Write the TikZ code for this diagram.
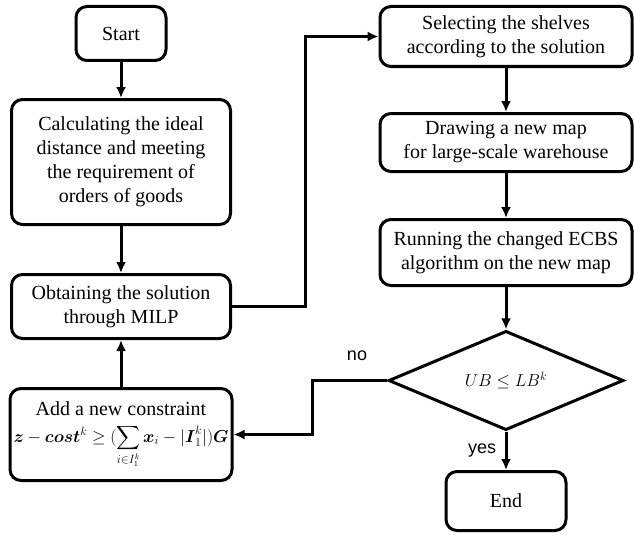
\documentclass[tikz,border=0pt]{standalone}
\usepackage{fontspec}
\setmainfont{Liberation Serif}
\newfontfamily\labelfont{Liberation Sans}
\usepackage{amsmath}
\usepackage{amssymb}
\usetikzlibrary{calc}
\usetikzlibrary{positioning}
\usetikzlibrary{shapes.geometric}
\usetikzlibrary{arrows.meta}
\tikzstyle{stepnode} = [draw, rectangle, rounded corners=11pt, line width=3pt, align=center, inner sep=2pt, font=\fontsize{20}{24}\selectfont]
\tikzstyle{decnode} = [draw, diamond, line width=3pt, inner sep=0pt, font=\fontsize{17.5}{24}\selectfont]
\tikzstyle{flow} = [line width=3pt, -{Latex[length=11pt,width=10pt]}]
\tikzstyle{flowlabel} = [inner sep=0pt, font=\labelfont\fontsize{18}{20}\selectfont]

\begin{document}
\begin{tikzpicture}[x=1pt,y=1pt]
\useasboundingbox (0,0) rectangle (634,-535);
\node[stepnode, minimum width=90pt, minimum height=54pt] (start) at (121,-33.5) {Start};
\node[stepnode, minimum width=219pt, minimum height=125pt] (ideal) at ($(start)+(0,-128.5)$)
{Calculating the ideal\\distance and meeting\\the requirement of\\orders of goods};
\node[stepnode, minimum width=219pt, minimum height=64pt] (milp) at ($(ideal)+(0,-144.5)$)
{Obtaining the solution\\through MILP};
\node[stepnode, minimum width=222pt, minimum height=92pt] (constr) at ($(milp)+(0,-128)$)
{Add a new constraint\\[3pt]
{\fontsize{16.5}{20}\selectfont$\boldsymbol{z}-\boldsymbol{cost}^k \geq (\displaystyle\sum_{i\in I_1^k}\boldsymbol{x}_i-|\boldsymbol{I}_1^k|)\boldsymbol{G}$}};

\node[stepnode, minimum width=252pt, minimum height=60pt] (shelves) at (506,-36.5)
{Selecting the shelves\\according to the solution};
\node[stepnode, minimum width=252pt, minimum height=58pt] (newmap) at ($(shelves)+(0,-106)$)
{Drawing a new map\\for large-scale warehouse};
\node[stepnode, minimum width=252pt, minimum height=66pt] (ecbs) at ($(newmap)+(0,-110)$)
{Running the changed ECBS\\algorithm on the new map};
\node[decnode, minimum width=235pt, minimum height=92pt] (check) at ($(ecbs)+(0,-128)$)
{$UB \leq LB^k$};
\node[stepnode, minimum width=120pt, minimum height=59pt] (finish) at ($(check)+(0,-120.5)$) {End};

\coordinate (up) at (305,-306.5);
\coordinate (back) at (312,-380.5);
\node[flowlabel] (yes) at ($(check.south)+(-24,-19)$) {yes};
\node[flowlabel] (no) at ($(check.west)+(-30,24.5)$) {no};

\draw[flow] (start) -- (ideal);
\draw[flow] (ideal) -- (milp);
\draw[flow] (constr) -- (milp);
\draw[flow] (milp.east) -- (up) |- (shelves.west);
\draw[flow] (shelves) -- (newmap);
\draw[flow] (newmap) -- (ecbs);
\draw[flow] (ecbs) -- (check);
\draw[flow] (check) -- (finish);
\draw[flow] (check.west) -- (back) |- (constr.east);
\end{tikzpicture}
\end{document}
